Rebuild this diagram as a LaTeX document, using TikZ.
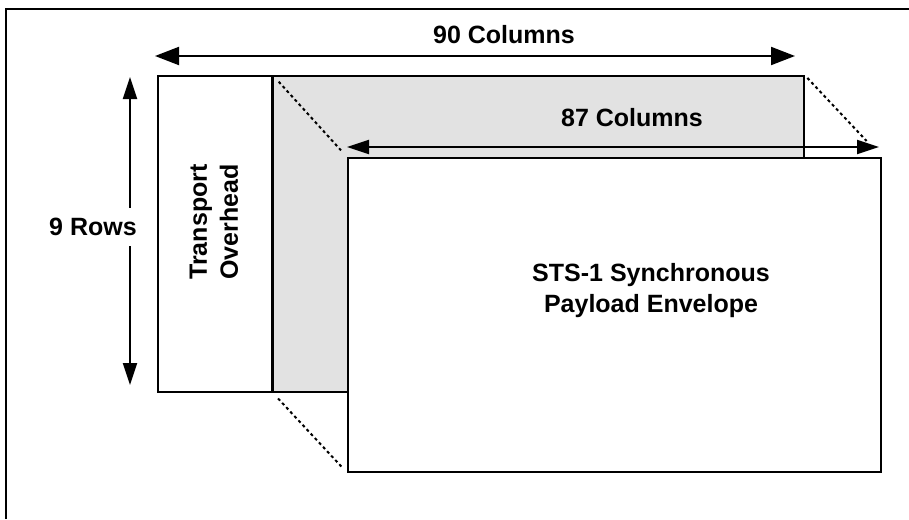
\documentclass[tikz,border=0pt]{standalone}
\usepackage{fontspec}
\setmainfont{Liberation Sans}
\usetikzlibrary{arrows.meta}
\definecolor{lightgrey}{RGB}{226,226,226}

\begin{document}
\begin{tikzpicture}[x=1pt, y=-1pt,
    box/.style={rectangle, draw, line width=1.6pt, inner sep=0pt, anchor=north west},
    lbl/.style={font=\fontsize{25}{31}\selectfont\bfseries, align=center, inner sep=0pt},
    dim/.style={{Triangle[length=24pt,width=18pt]}-{Triangle[length=24pt,width=18pt]}, line width=2pt},
    dimsmall/.style={{Triangle[length=22pt,width=14pt]}-{Triangle[length=22pt,width=14pt]}, line width=2pt},
    fold/.style={line width=2pt, dash pattern=on 3pt off 3pt}
]
    \useasboundingbox (0,0) rectangle (909,519);

    % Outer frame
    \draw[line width=1.8pt] (6,519) -- (6,9) -- (909,9);

    % STS-1 frame
    \node[box, fill=lightgrey, minimum width=646pt, minimum height=316pt] (frame) at (157,75) {};
    \node[box, fill=white, minimum width=114pt, minimum height=316pt] (toh) at (157,75) {};
    \draw[line width=3.5pt] (toh.north east) -- (toh.south east);
    \node[lbl, rotate=90] (tohtext) at (214,222) {Transport\\Overhead};

    % Payload envelope
    \node[box, fill=white, minimum width=533pt, minimum height=314pt] (spe) at (347,157) {};
    \node[lbl] (spetext) at (651,291) {STS-1 Synchronous\\Payload Envelope};

    % Fold lines
    \draw[fold, shorten <=9pt, shorten >=9pt] (toh.north east) -- (spe.north west);
    \draw[fold, shorten <=4pt, shorten >=22pt] (frame.north east) -- (spe.north east);
    \draw[fold, shorten <=8pt, shorten >=8pt] (toh.south east) -- (spe.south west);

    % Dimensions
    \coordinate (c90l) at (155,56);
    \coordinate (c90r) at (795,56);
    \draw[dim] (c90l) -- (c90r);
    \node[lbl] (c90) at (504,35) {90 Columns};

    \coordinate (c87l) at (347,147);
    \coordinate (c87r) at (879,147);
    \draw[dimsmall] (c87l) -- (c87r);
    \node[lbl] (c87) at (632,118) {87 Columns};

    \coordinate (rowt) at (130,77);
    \coordinate (rowb) at (130,385);
    \draw[dimsmall] (rowt) -- (rowb);
    \node[lbl, fill=white, inner xsep=1pt, inner ysep=10pt] (rows) at (93,227) {9 Rows};
\end{tikzpicture}
\end{document}
